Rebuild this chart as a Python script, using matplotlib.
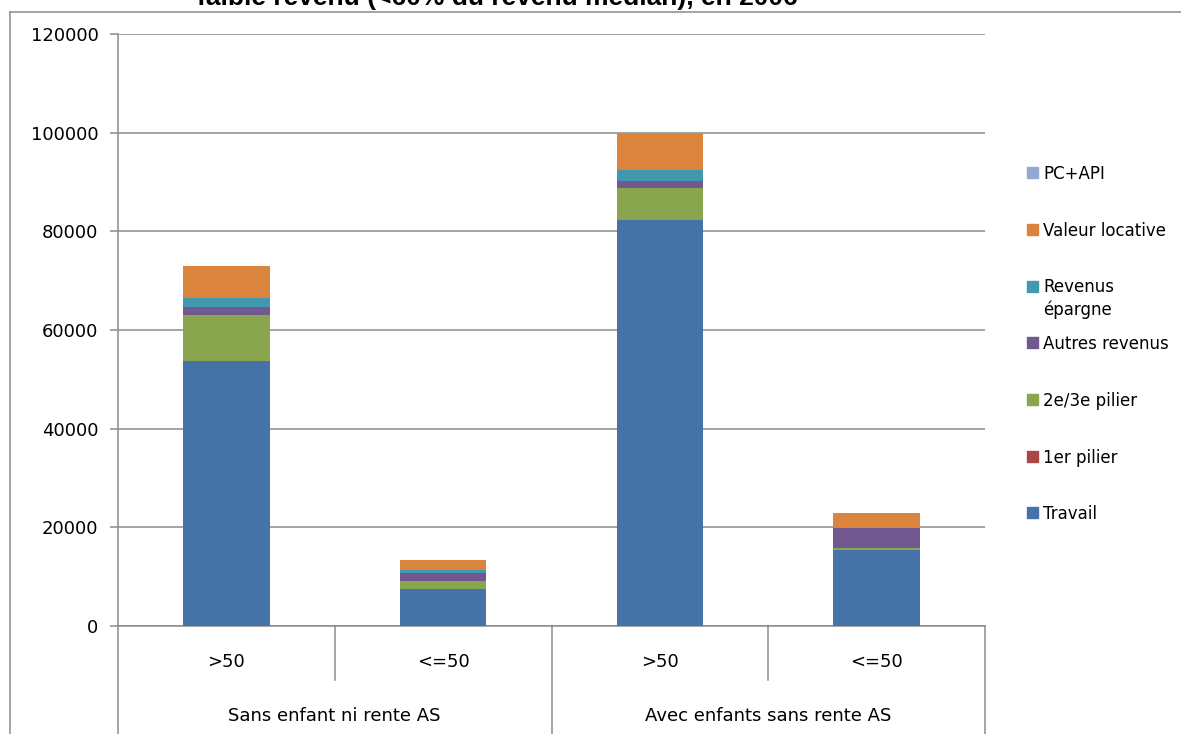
import matplotlib
matplotlib.use('Agg')
import matplotlib.pyplot as plt
from matplotlib.lines import Line2D
from matplotlib.patches import Rectangle
import numpy as np

# data
sub_labels = ['>50', '<=50', '>50', '<=50']
group_labels = ['Sans enfant ni rente AS', 'Avec enfants sans rente AS']

series_names = ['Travail', '1er pilier', '2e/3e pilier', 'Autres revenus',
                'Revenus\népargne', 'Valeur locative', 'PC+API']
travail = [53800, 7500, 82200, 15450]
pilier1 = [0, 0, 0, 0]
pilier23 = [9200, 1600, 6500, 300]
autres = [1700, 1700, 1500, 4050]
epargne = [1700, 550, 2200, 150]
valeur_loc = [6600, 2000, 7600, 3050]
pc_api = [0, 0, 0, 0]

colors = ['#4572A7', '#AA4643', '#89A54E', '#71588F', '#4198AF', '#DB843D', '#93A9CF']
series = [travail, pilier1, pilier23, autres, epargne, valeur_loc, pc_api]

W, H = 1181, 734
fig = plt.figure(figsize=(W / 100, H / 100), dpi=100)
ax = fig.add_axes([118 / W, (H - 626) / H, 867 / W, 592 / H])

x = np.arange(len(sub_labels))
bottom = np.zeros(len(x))
for vals, c in zip(series, colors):
    ax.bar(x, vals, 0.4, bottom=bottom, color=c, edgecolor='none', zorder=3)
    bottom += np.array(vals)

grey = '#8c8c8c'
ax.set_xlim(-0.5, 3.5)
ax.set_ylim(0, 120000)
ax.set_yticks(np.arange(0, 120001, 20000))
ax.yaxis.grid(True, color=grey, lw=1.1, zorder=0)
ax.set_xticks([])
for s in ['top', 'right']:
    ax.spines[s].set_visible(False)
for s in ['left', 'bottom']:
    ax.spines[s].set_color(grey)
    ax.spines[s].set_linewidth(1.1)
ax.tick_params(axis='y', length=6, color=grey, width=1.1, pad=8, labelsize=13)

# category axis with two levels
tr = ax.get_xaxis_transform()
for xi, lab in zip(x, sub_labels):
    ax.text(xi, -0.061, lab, transform=tr, ha='center', va='center', fontsize=13)
for gi, lab in enumerate(group_labels):
    ax.text(0.5 + 2 * gi, -0.152, lab, transform=tr, ha='center', va='center', fontsize=13)
for xs in [0.5, 2.5]:
    ax.plot([xs, xs], [0, -0.092], transform=tr, color=grey, lw=1.1, clip_on=False)
for xs in [-0.5, 1.5, 3.5]:
    ax.plot([xs, xs], [0, -0.25], transform=tr, color=grey, lw=1.1, clip_on=False)

# legend drawn by hand (Excel spacing)
for i, (name, c) in enumerate(reversed(list(zip(series_names, colors)))):
    yc = 172.7 + 56.7 * i
    fig.add_artist(Rectangle((1027 / W, 1 - (yc + 5.5) / H), 11 / W, 11 / H,
                             transform=fig.transFigure, color=c))
    # first line of the label sits next to the marker
    nl = name.count('\n')
    fig.text(1043 / W, 1 - (yc + 6.5 + 22.5 * nl) / H, name, fontsize=12,
             ha='left', va='baseline', linespacing=1.35)

# chart frame and clipped title
fig.add_artist(Line2D([10 / W, 1], [1 - 12 / H, 1 - 12 / H], color=grey, lw=1.1))
fig.add_artist(Line2D([10 / W, 10 / W], [0, 1 - 12 / H], color=grey, lw=1.1))
fig.text(497 / W, 1 - 5 / H, 'faible revenu (<60% du revenu médian), en 2006',
         fontsize=19, fontweight='bold', family='Liberation Sans',
         ha='center', va='baseline')

plt.savefig('out.png')
